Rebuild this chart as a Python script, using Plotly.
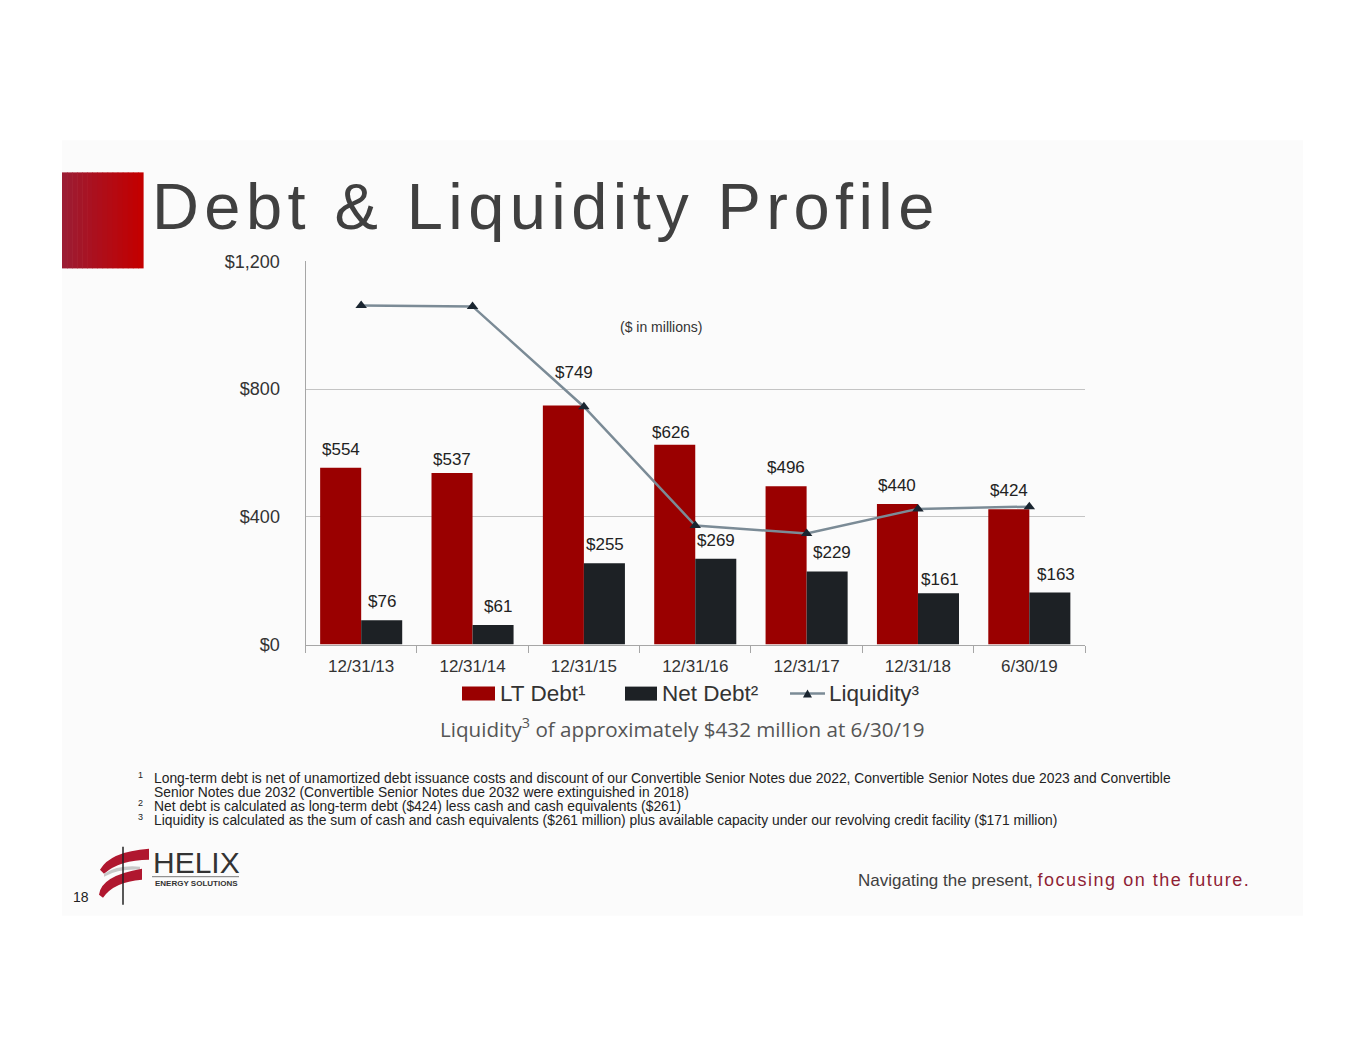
import plotly.graph_objects as go

W, H = 1365, 1055

categories = ["12/31/13", "12/31/14", "12/31/15", "12/31/16", "12/31/17", "12/31/18", "6/30/19"]
lt_debt = [554, 537, 749, 626, 496, 440, 424]
net_debt = [76, 61, 255, 269, 229, 161, 163]
liquidity = [1062, 1059, 745, 373, 348, 425, 432]
y_ticks = [0, 400, 800, 1200]
series_names = ["LT Debt\u00b9", "Net Debt\u00b2", "Liquidity\u00b3"]

FONT = "Liberation Sans, Arial, sans-serif"
RED = "#9a0000"
DARK = "#1d2125"
LINE = "#7b8b96"
MARK = "#1a2530"

# empirical vertical compensation for the capture (layout helper only)
K, OFF = 0.9806, 9.7


def px(x):
    return x / W


def py(y):
    return 1 - ((y - OFF) / K) / H


def spaced(s, sep="\u200a"):
    return sep.join(list(s))


fig = go.Figure()
fig.add_trace(go.Bar(name=series_names[0], x=categories, y=lt_debt, marker_color=RED,
                     marker_line_width=0, hoverinfo="skip"))
fig.add_trace(go.Bar(name=series_names[1], x=categories, y=net_debt, marker_color=DARK,
                     marker_line_width=0, hoverinfo="skip"))
fig.add_trace(go.Scatter(name=series_names[2], x=categories, y=liquidity, mode="lines+markers",
                         line=dict(color=LINE, width=2.5),
                         marker=dict(symbol="triangle-up", size=10, color=MARK),
                         hoverinfo="skip"))

x0, x1, y0, y1 = 305.5, 1085, 261, 644
fig.update_layout(
    width=W, height=H, autosize=False,
    margin=dict(l=0, r=0, t=0, b=0),
    paper_bgcolor="white", plot_bgcolor="white",
    font=dict(family=FONT, color="#333333"),
    barmode="group", bargap=0.263, bargroupgap=0,
    showlegend=False,
    xaxis=dict(domain=[px(x0), px(x1)], showline=True, linecolor="#a6a6a6", linewidth=1,
               ticks="outside", tickson="boundaries", ticklen=7, tickcolor="#a6a6a6",
               ticklabelstandoff=6,
               tickfont=dict(size=17, color="#333333"), showgrid=False, fixedrange=True),
    yaxis=dict(domain=[py(y1), py(y0)], range=[0, 1200], tickvals=y_ticks,
               ticktext=["$" + format(v, ",") for v in y_ticks],
               showline=True, linecolor="#a6a6a6", linewidth=1, ticks="",
               ticklabelstandoff=21,
               showgrid=True, gridcolor="#c4c4c4", gridwidth=1, zeroline=False,
               tickfont=dict(size=18, color="#333333"), fixedrange=True),
)

shapes = []
# slide background
shapes.append(dict(type="rect", xref="paper", yref="paper", x0=px(62), x1=px(1303),
                   y0=py(915), y1=py(140), fillcolor="#fbfbfb", line_width=0, layer="below"))
# red gradient block
n = 16
c_left = (0x9c, 0x1c, 0x33)
c_right = (0xc3, 0x00, 0x00)
for i in range(n):
    t = i / (n - 1)
    c = tuple(int(c_left[k] + (c_right[k] - c_left[k]) * t) for k in range(3))
    xa = 62 + (143 - 62) * i / n
    xb = 62 + (143 - 62) * (i + 1) / n + 0.6
    shapes.append(dict(type="rect", xref="paper", yref="paper", x0=px(xa), x1=px(xb),
                       y0=py(268), y1=py(172), fillcolor="rgb(%d,%d,%d)" % c, line_width=0))


def path(pts_cmds):
    out = []
    for cmd in pts_cmds:
        if isinstance(cmd, str):
            out.append(cmd)
        else:
            out.append("%.5f,%.5f" % (px(cmd[0]), py(cmd[1])))
    return " ".join(out)


# logo swirl
shapes.append(dict(type="path", xref="paper", yref="paper",
                   path=path(["M", (100, 869), "Q", (110, 851), (149, 848), "L", (149, 859),
                              "Q", (120, 859), (104, 873), "Z"]),
                   fillcolor="#b0172f", line_width=0))
shapes.append(dict(type="path", xref="paper", yref="paper",
                   path=path(["M", (104, 873), "Q", (118, 864), (140, 866), "L", (140, 869),
                              "Q", (118, 868), (104, 876), "Z"]),
                   fillcolor="#c8c8c8", line_width=0))
shapes.append(dict(type="path", xref="paper", yref="paper",
                   path=path(["M", (99, 894), "Q", (101, 875), (142, 868), "L", (142, 879),
                              "Q", (114, 881), (103, 897), "Z"]),
                   fillcolor="#b0172f", line_width=0))
shapes.append(dict(type="line", xref="paper", yref="paper", x0=px(123), x1=px(123),
                   y0=py(904), y1=py(846), line=dict(color="#222222", width=1.5)))
shapes.append(dict(type="line", xref="paper", yref="paper", x0=px(152), x1=px(239),
                   y0=py(876), y1=py(876), line=dict(color="#555555", width=0.8)))

# custom legend (wide swatches like the original)
LEG_Y = 693
shapes.append(dict(type="rect", xref="paper", yref="paper", x0=px(462), x1=px(495),
                   y0=py(700), y1=py(686), fillcolor=RED, line_width=0))
shapes.append(dict(type="rect", xref="paper", yref="paper", x0=px(625), x1=px(657),
                   y0=py(700), y1=py(686), fillcolor=DARK, line_width=0))
shapes.append(dict(type="line", xref="paper", yref="paper", x0=px(790), x1=px(825),
                   y0=py(LEG_Y), y1=py(LEG_Y), line=dict(color=LINE, width=2.5)))
shapes.append(dict(type="path", xref="paper", yref="paper",
                   path=path(["M", (803, 697), "L", (807.5, 689), "L", (812, 697), "Z"]),
                   fillcolor=MARK, line_width=0))
fig.update_layout(shapes=shapes)

ann = []
# title
ann.append(dict(text=spaced("Debt & Liquidity Profile"), x=px(150), y=py(206), xref="paper", yref="paper",
                xanchor="left", yanchor="middle", showarrow=False,
                font=dict(size=65, color="#404040", family=FONT)))
# data labels (label nudges are cosmetic placements only)
nudge_lt = {"12/31/15": (11, 14), "12/31/16": (-4, -6), "12/31/14": (0, -5)}
nudge_nd = {"12/31/17": (4, 0), "6/30/19": (6, 0), "12/31/14": (4, 0), "12/31/18": (1, -5)}
for c, v in zip(categories, lt_debt):
    dx, dy = nudge_lt.get(c, (0, 0))
    ann.append(dict(text="$" + str(v), x=c, y=v, xref="x", yref="y", xshift=-20.5 + dx, yshift=7 + dy,
                    xanchor="center", yanchor="bottom", showarrow=False,
                    font=dict(size=17, color="#222222", family=FONT)))
for c, v in zip(categories, net_debt):
    dx, dy = nudge_nd.get(c, (0, 0))
    ann.append(dict(text="$" + str(v), x=c, y=v, xref="x", yref="y", xshift=21 + dx, yshift=7 + dy,
                    xanchor="center", yanchor="bottom", showarrow=False,
                    font=dict(size=17, color="#222222", family=FONT)))
ann.append(dict(text="($ in millions)", x=px(661), y=py(327), xref="paper", yref="paper",
                xanchor="center", yanchor="middle", showarrow=False,
                font=dict(size=14, color="#333333", family=FONT)))
# legend texts
for name, xl in zip(series_names, [498, 660, 827]):
    ann.append(dict(text=name, x=px(xl), y=py(LEG_Y), xref="paper", yref="paper",
                    xanchor="left", yanchor="middle", showarrow=False,
                    font=dict(size=22.5, color="#333333", family=FONT)))
ann.append(dict(text="Liquidity<sup>3</sup> of approximately $432 million at 6/30/19",
                x=px(682), y=py(727), xref="paper", yref="paper", xanchor="center", yanchor="middle",
                showarrow=False, font=dict(size=20.6, color="#555555", family="Open Sans, sans-serif")))
# footnotes
foot = [
    (777, "1", "Long-term debt is net of unamortized debt issuance costs and discount of our Convertible Senior Notes due 2022, Convertible Senior Notes due 2023 and Convertible"),
    (791, "", "Senior Notes due 2032 (Convertible Senior Notes due 2032 were extinguished in 2018)"),
    (805, "2", "Net debt is calculated as long-term debt ($424) less cash and cash equivalents ($261)"),
    (819, "3", "Liquidity is calculated as the sum of cash and cash equivalents ($261 million) plus available capacity under our revolving credit facility ($171 million)"),
]
for yy, num, txt in foot:
    ann.append(dict(text=txt, x=px(152), y=py(yy), xref="paper", yref="paper", xanchor="left",
                    yanchor="middle", showarrow=False, font=dict(size=13.85, color="#222222", family=FONT)))
    if num:
        ann.append(dict(text=num, x=px(140), y=py(yy - 3), xref="paper", yref="paper", xanchor="center",
                        yanchor="middle", showarrow=False, font=dict(size=9, color="#222222", family=FONT)))
# logo text
ann.append(dict(text="HELIX", x=px(151), y=py(862), xref="paper", yref="paper", xanchor="left",
                yanchor="middle", showarrow=False, font=dict(size=30, color="#333333", family=FONT)))
ann.append(dict(text="<b>ENERGY SOLUTIONS</b>", x=px(153), y=py(883), xref="paper", yref="paper",
                xanchor="left", yanchor="middle", showarrow=False,
                font=dict(size=8, color="#333333", family=FONT)))
ann.append(dict(text="18", x=px(81), y=py(896), xref="paper", yref="paper", xanchor="center",
                yanchor="middle", showarrow=False, font=dict(size=14, color="#222222", family=FONT)))
ann.append(dict(text="Navigating the present, <span style='color:#8f1f35;font-size:18px'>" + spaced("focusing on the future.") + "</span>",
                x=px(1251), y=py(879), xref="paper", yref="paper", xanchor="right", yanchor="middle",
                showarrow=False, font=dict(size=17, color="#404040", family=FONT)))
fig.update_layout(annotations=ann)

fig.write_html("out.html", post_script="document.body.style.margin='0';document.body.style.overflow='hidden';")
